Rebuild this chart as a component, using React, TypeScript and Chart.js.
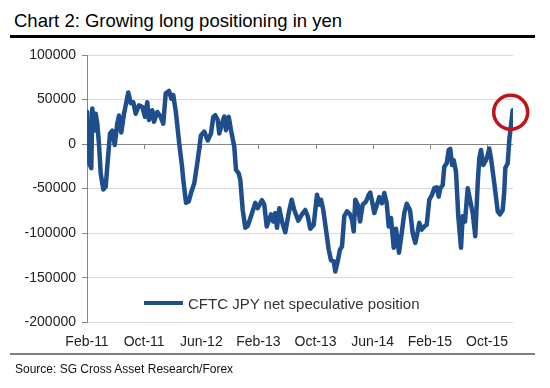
import React, { useEffect, useRef } from "react";
import { Chart, registerables } from "chart.js";

Chart.register(...registerables);

const chartTitle = "Chart 2: Growing long positioning in yen";
const seriesName = "CFTC JPY net speculative position";
const sourceText = "Source: SG Cross Asset Research/Forex";

// months since Feb-2011
const months = [
  0.04, 0.28, 0.6, 0.74, 0.98, 1.22, 1.44, 1.68, 1.92, 2.28,
  2.62, 2.84, 3.22, 3.54, 3.88, 4.24, 4.48, 4.8, 5.18, 5.56,
  5.78, 6.12, 6.48, 6.82, 7.28, 7.74, 8.12, 8.44, 8.68, 9.14,
  9.38, 9.84, 10.32, 10.68, 11.02, 11.48, 11.8, 12.08, 12.44, 12.92,
  13.3, 13.48, 13.86, 14.24, 14.56, 15.02, 15.5, 15.96, 16.42, 16.9,
  17.36, 17.68, 17.96, 18.3, 18.52, 18.9, 19.22, 19.46, 19.84, 20.16,
  20.62, 20.86, 21.24, 21.46, 21.8, 22.16, 22.5, 22.96, 23.56, 23.9,
  24.5, 24.82, 25.16, 25.76, 26.08, 26.36, 26.6, 26.92, 27.3, 27.76,
  28.24, 28.66, 29.02, 29.58, 30.1, 30.56, 30.9, 31.26, 31.74, 32.2,
  32.52, 32.76, 33.08, 33.46, 33.84, 34.16, 34.54, 34.76, 35.1, 35.42,
  35.7, 36.02, 36.4, 36.82, 37.1, 37.34, 37.56, 37.9, 38.22, 38.6,
  39.06, 39.44, 39.66, 40.0, 40.22, 40.6, 40.92, 41.3, 41.62, 41.96,
  42.24, 42.56, 42.94, 43.26, 43.68, 44.06, 44.42, 44.76, 45.22, 45.6,
  45.96, 46.3, 46.52, 46.86, 47.22, 47.56, 47.92, 48.3, 48.62, 48.96,
  49.24, 49.46, 49.8, 50.02, 50.36, 50.64, 50.86, 51.1, 51.34, 51.66,
  51.98, 52.36, 52.6, 52.92, 53.3, 53.62, 54.0, 54.36, 54.7, 54.92,
  55.16, 55.48, 55.86, 56.1, 56.32, 56.56, 57.02, 57.5, 57.82, 58.2,
  58.42, 58.56, 58.9, 59.12, 59.6,
];

const netPositions = [
  36000, -21000, -27000, 40000, 15000, 34000, 23000, 0, -33000, -51000,
  -48000, -25000, 12000, 15000, -1000, 23000, 32000, 13000, 34000, 49000,
  58000, 46000, 47000, 34000, 43600, 41700, 30500, 47000, 27000, 38000,
  25000, 36000, 30500, 23000, 57000, 59600, 51000, 55000, 36000, 0,
  -25000, -40000, -66000, -64500, -55000, -44000, -18000, 10000, 14000, 4000,
  12000, 30500, 32400, 27000, 12000, 23000, 31000, 15600, 30500, 15600,
  -3000, -29000, -33000, -40000, -74000, -94000, -92000, -81000, -66000, -72000,
  -63000, -68000, -92500, -79000, -87000, -77500, -94000, -72000, -87000, -99000,
  -77500, -62500, -74000, -86000, -79000, -74000, -81000, -95000, -90500, -57000,
  -68000, -62500, -74000, -96000, -118500, -130500, -131500, -143000, -131500, -118500,
  -115000, -81000, -75500, -79000, -85000, -98000, -62500, -68000, -87000, -68000,
  -64500, -57000, -54500, -68000, -77500, -68000, -59500, -66500, -55000, -66500,
  -92500, -83000, -116500, -95000, -122000, -100000, -77500, -67000, -74000, -100000,
  -111000, -98000, -88500, -96000, -92500, -90500, -62500, -57000, -49500, -48500,
  -59000, -49500, -46000, -25500, -21500, -6500, -5500, -23500, -18000, -31000,
  -81000, -116500, -81000, -87000, -49500, -62500, -77500, -103500, -44000, -16000,
  -6700, -23500, -18000, -12300, -5000, -16000, -44000, -75500, -79000, -74000,
  -53000, -27000, -21500, 4500, 38000,
];

const xTickMonths = [0, 8, 16, 24, 32, 40, 48, 56];
const xTickLabels = ["Feb-11", "Oct-11", "Jun-12", "Feb-13", "Oct-13", "Jun-14", "Feb-15", "Oct-15"];
const xMax = 59.64;
const yMin = -200000;
const yMax = 100000;
const yStep = 50000;

const FONT = "'Liberation Sans', Arial, Helvetica, sans-serif";
const LINE_COLOR = "#1f4e8c";

export default function App() {
  const canvasRef = useRef<HTMLCanvasElement | null>(null);

  useEffect(() => {
    document.body.style.margin = "0";
    const canvas = canvasRef.current;
    if (!canvas) return;

    const zeroTicks = {
      id: "zeroTicks",
      beforeDatasetsDraw(chart: any) {
        const { ctx } = chart;
        const xs = chart.scales.x;
        const ys = chart.scales.y;
        const y0 = ys.getPixelForValue(0);
        ctx.save();
        ctx.strokeStyle = "#868686";
        ctx.lineWidth = 1;
        xTickMonths.forEach((m, i) => {
          if (i === 0) return;
          const px = Math.round(xs.getPixelForValue(m)) + 0.5;
          ctx.beginPath();
          ctx.moveTo(px, y0);
          ctx.lineTo(px, y0 + 5);
          ctx.stroke();
        });
        ctx.restore();
      },
    };

    const highlight = {
      id: "highlight",
      afterDatasetsDraw(chart: any) {
        const { ctx } = chart;
        const xs = chart.scales.x;
        const ys = chart.scales.y;
        const n = months.length - 1;
        const cx = xs.getPixelForValue(months[n]) - 2;
        const cy = ys.getPixelForValue(netPositions[n]) + 2;
        ctx.save();
        ctx.strokeStyle = "#c0141c";
        ctx.lineWidth = 3.5;
        ctx.beginPath();
        ctx.arc(cx, cy, 17, 0, Math.PI * 2);
        ctx.stroke();
        ctx.restore();
      },
    };

    const chart = new Chart(canvas, {
      type: "line",
      data: {
        datasets: [
          {
            label: seriesName,
            data: months.map((m, i) => ({ x: m, y: netPositions[i] })),
            borderColor: LINE_COLOR,
            backgroundColor: LINE_COLOR,
            borderWidth: 4.5,
            pointRadius: 0,
            tension: 0,
            borderJoinStyle: "round",
            borderCapStyle: "round",
          },
        ],
      },
      options: {
        animation: false,
        responsive: false,
        maintainAspectRatio: false,
        layout: { padding: { top: 55, bottom: 25, left: 0, right: 37 } },
        plugins: {
          legend: { display: false },
          tooltip: { enabled: false },
          title: { display: false },
        },
        scales: {
          x: {
            type: "linear",
            min: 0,
            max: xMax,
            afterBuildTicks: (scale: any) => {
              scale.ticks = xTickMonths.map((v) => ({ value: v }));
            },
            ticks: {
              autoSkip: false,
              maxRotation: 0,
              padding: 12,
              color: "#222",
              font: { family: FONT, size: 14 },
              callback: (_v: any, i: number) => xTickLabels[i],
            },
            grid: { display: false, drawTicks: false },
            border: { display: false },
          },
          y: {
            min: yMin,
            max: yMax,
            afterFit: (scale: any) => {
              scale.width = 87;
            },
            ticks: {
              stepSize: yStep,
              padding: 6,
              color: "#222",
              font: { family: FONT, size: 14 },
              callback: (v: any) => String(v),
            },
            grid: {
              color: (c: any) => (c.tick && c.tick.value === 0 ? "#868686" : "#d9d9d9"),
              lineWidth: 1,
              drawTicks: true,
              tickLength: 5,
              tickColor: "#868686",
            },
            border: { display: true, color: "#868686", width: 1 },
          },
        },
      },
      plugins: [zeroTicks, highlight],
    });

    return () => chart.destroy();
  }, []);

  return (
    <div
      style={{
        position: "absolute",
        left: 0,
        top: 0,
        width: 550,
        height: 388,
        background: "#fff",
        fontFamily: FONT,
        overflow: "hidden",
      }}
    >
      <div
        style={{
          position: "absolute",
          left: 14,
          top: 10,
          fontSize: 18.5,
          lineHeight: "21px",
          color: "#000",
          whiteSpace: "nowrap",
        }}
      >
        {chartTitle}
      </div>
      <div style={{ position: "absolute", left: 10, top: 35, width: 525, height: 3, background: "#000" }} />
      <canvas ref={canvasRef} width={550} height={388} style={{ position: "absolute", left: 0, top: 0 }} />
      <div
        style={{
          position: "absolute",
          left: 144,
          top: 294,
          height: 18,
          display: "flex",
          alignItems: "center",
          whiteSpace: "nowrap",
        }}
      >
        <span style={{ display: "inline-block", width: 39, height: 4, background: LINE_COLOR, marginRight: 5 }} />
        <span style={{ fontSize: 15, color: "#333" }}>{seriesName}</span>
      </div>
      <div style={{ position: "absolute", left: 10, top: 353, width: 525, height: 2, background: "#7f7f7f" }} />
      <div
        style={{
          position: "absolute",
          left: 15,
          top: 362,
          fontSize: 12,
          lineHeight: "14px",
          color: "#111",
          whiteSpace: "nowrap",
        }}
      >
        {sourceText}
      </div>
    </div>
  );
}
